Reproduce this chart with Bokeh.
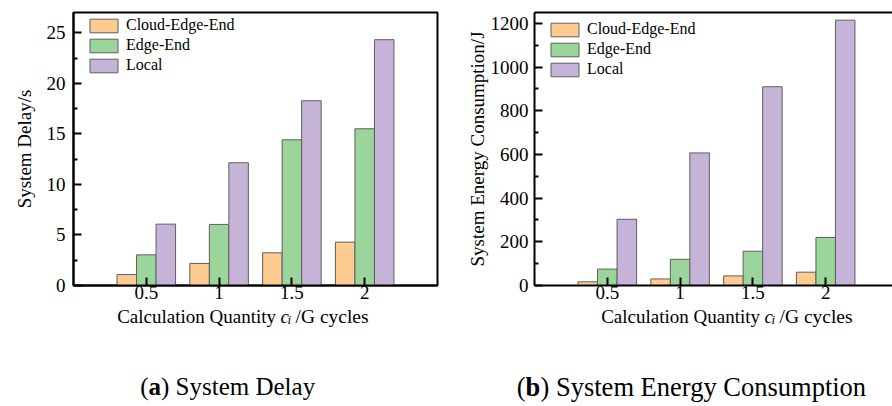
from bokeh.plotting import figure
from bokeh.layouts import row, column
from bokeh.models import (FixedTicker, LinearAxis, Label, Legend, LegendItem,
                          Range1d, ColumnDataSource)
from bokeh.transform import dodge
from bokeh.embed import file_html
from bokeh.resources import INLINE

# ---------------- data ----------------
quantities = [0.5, 1.0, 1.5, 2.0]
quantity_labels = ["0.5", "1", "1.5", "2"]
series_names = ["Cloud-Edge-End", "Edge-End", "Local"]

delay_cloud_edge_end = [1.08, 2.18, 3.23, 4.29]
delay_edge_end = [3.03, 6.04, 14.41, 15.50]
delay_local = [6.07, 12.14, 18.27, 24.31]

energy_cloud_edge_end = [17, 30, 44, 61]
energy_edge_end = [75, 120, 157, 220]
energy_local = [303, 607, 910, 1215]

delay_ticks = [0, 5, 10, 15, 20, 25]
delay_minor = [2.5, 7.5, 12.5, 17.5, 22.5]
energy_ticks = [0, 200, 400, 600, 800, 1000, 1200]
energy_minor = [100, 300, 500, 700, 900, 1100]

# ---------------- style ----------------
COLORS = ["#FECC91", "#9CD59B", "#C5B4D8"]
EDGE = "#5f5f5f"
FONT = "Liberation Serif"
BAR_W = 0.134
OFFSETS = [-0.134, 0.0, 0.134]
TOP_H = 306          # height of the chart row
TXT_H = 406 - TOP_H  # height of the text strip below


def make_panel(vals, y_end, ticks, minor, ylabel, border_left, frame_w,
               x_end, full_box, legend_y, ylab_standoff, ytick_standoff):
    p = figure(width=446, height=TOP_H, output_backend="svg", title=None,
               toolbar_location=None, x_range=Range1d(0, x_end),
               y_range=Range1d(0, y_end), min_border_left=border_left,
               min_border_right=446 - border_left - frame_w,
               min_border_top=12, min_border_bottom=TOP_H - 12 - 273)
    p.grid.visible = False
    p.background_fill_color = "white"
    p.border_fill_color = "white"
    if full_box:
        p.outline_line_color = "black"
        p.outline_line_width = 2
    else:
        p.outline_line_color = None
        top = LinearAxis(ticker=FixedTicker(ticks=[]),
                         major_label_text_font_size="0px",
                         major_label_standoff=0,
                         axis_line_width=2, axis_line_color="black",
                         major_tick_line_color=None,
                         minor_tick_line_color=None)
        p.add_layout(top, "above")

    src = ColumnDataSource(dict(q=quantities, a=vals[0], b=vals[1], c=vals[2]))
    items = []
    for key, off, col, name in zip(["a", "b", "c"], OFFSETS, COLORS, series_names):
        r = p.vbar(x=dodge("q", off, range=p.x_range), top=key, width=BAR_W,
                   source=src, fill_color=col, line_color=EDGE, line_width=1)
        items.append(LegendItem(label=name, renderers=[r]))

    xa = p.below[0]
    xa.ticker = FixedTicker(ticks=quantities)
    xa.major_label_overrides = dict(zip(quantities, quantity_labels))
    xa.major_tick_in = 8
    xa.major_tick_out = 0
    xa.major_tick_line_width = 2
    xa.minor_tick_line_color = None
    xa.axis_line_width = 2
    xa.major_label_text_font = FONT
    xa.major_label_text_font_size = "19px"
    xa.major_label_text_color = "black"
    xa.major_label_standoff = 0

    ya = p.left[0]
    ya.ticker = FixedTicker(ticks=ticks, minor_ticks=minor)
    ya.major_tick_in = 8
    ya.major_tick_out = 0
    ya.minor_tick_in = 4
    ya.minor_tick_out = 0
    ya.major_tick_line_width = 2
    ya.minor_tick_line_width = 2
    ya.axis_line_width = 2
    ya.major_label_text_font = FONT
    ya.major_label_text_font_size = "19px"
    ya.major_label_text_color = "black"
    ya.major_label_standoff = ytick_standoff
    ya.axis_label = ylabel
    ya.axis_label_text_font = FONT
    ya.axis_label_text_font_size = "19px"
    ya.axis_label_text_font_style = "normal"
    ya.axis_label_text_color = "black"
    ya.axis_label_standoff = ylab_standoff

    leg = Legend(items=items, location=(13, legend_y), glyph_width=35,
                 glyph_height=17, label_height=17, spacing=2, padding=0,
                 margin=0, border_line_color=None, background_fill_alpha=0,
                 label_text_font=FONT, label_text_font_size="16px",
                 label_text_color="black", label_standoff=5)
    p.add_layout(leg)
    return p


p1 = make_panel([delay_cloud_edge_end, delay_edge_end, delay_local], 27,
                delay_ticks, delay_minor, "System Delay/s", 73, 364, 2.5,
                True, 211, 9, 8)
p2 = make_panel([energy_cloud_edge_end, energy_edge_end, energy_local], 1250,
                energy_ticks, energy_minor, "System Energy Consumption/J", 88,
                358, 358 / 145.6, False, 207, 0, 6)

# ---------------- text strip (x-axis titles and captions) ----------------
t = figure(width=892, height=TXT_H, output_backend="svg", title=None,
           toolbar_location=None, x_range=Range1d(0, 892),
           y_range=Range1d(TXT_H, 0), x_axis_type=None, y_axis_type=None,
           min_border=0)
t.grid.visible = False
t.outline_line_color = None
t.background_fill_color = "white"
t.border_fill_color = "white"

SHIFT = 8  # empirical vertical correction of label placement


def add_text(px, py, text, size, align="left", style="normal"):
    t.add_layout(Label(x=px, y=py - TOP_H - SHIFT, text=text, text_font=FONT,
                       text_font_size=size, text_font_style=style,
                       text_align=align, text_baseline="alphabetic",
                       text_color="black"))


for cx in (280, 764):
    add_text(cx - 4.5, 324, "Calculation Quantity", "19px", align="right")
    add_text(cx, 324, "c", "19px", style="italic")
    add_text(cx + 7, 327, "i", "13px", style="italic")
    add_text(cx + 15, 324, "/G cycles", "19.5px")

add_text(148, 394, "(", "25px", align="right")
add_text(148, 394, "a", "25px", style="bold")
add_text(160.5, 394, ") System Delay", "25px")
add_text(525, 394, "(", "26.5px", align="right")
add_text(525, 394, "b", "26.5px", style="bold")
add_text(540, 394, ") System Energy Consumption", "26.5px")

layout = column(row(p1, p2), t)
open("out.html", "w").write(file_html(layout, INLINE))
